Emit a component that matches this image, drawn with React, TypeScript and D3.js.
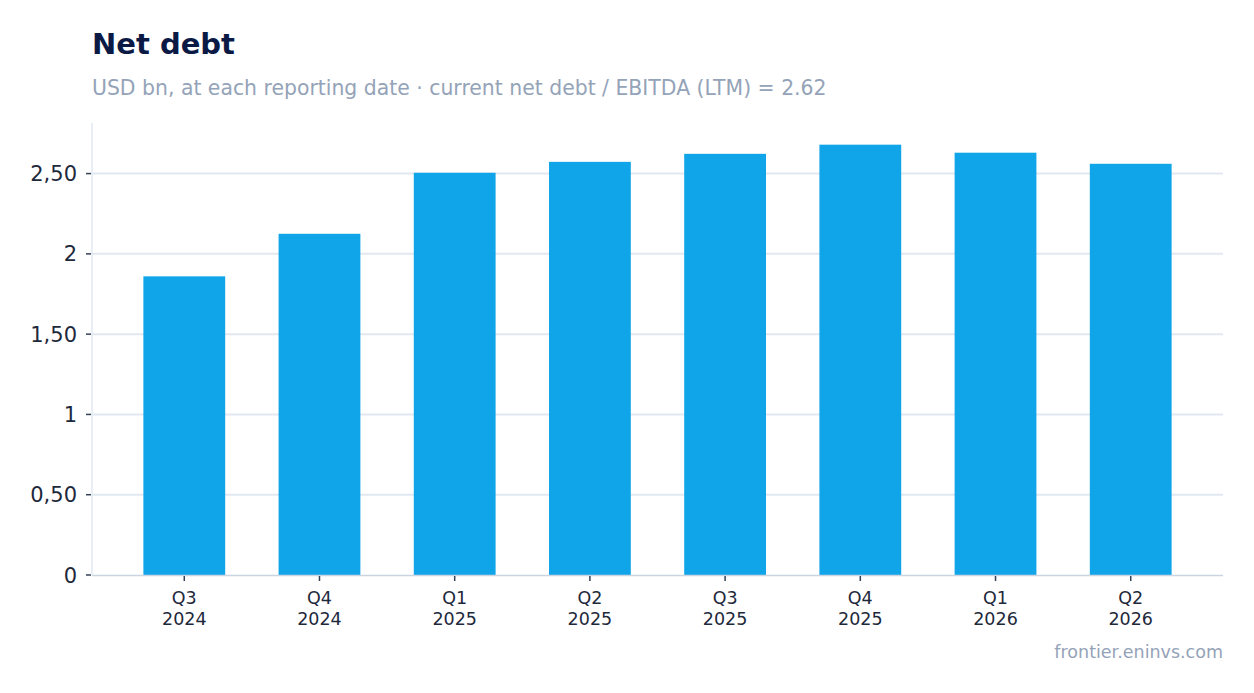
import * as React from 'react'
import { useEffect, useRef } from 'react'
import * as d3 from 'd3'

const quarters = ['Q3', 'Q4', 'Q1', 'Q2', 'Q3', 'Q4', 'Q1', 'Q2']
const years = ['2024', '2024', '2025', '2025', '2025', '2025', '2026', '2026']
const netDebt = [1.86, 2.125, 2.505, 2.573, 2.623, 2.68, 2.63, 2.561]
const yTicks = [0, 0.5, 1, 1.5, 2, 2.5]

const WIDTH = 1254
const HEIGHT = 693

export default function App() {
  const svgRef = useRef<SVGSVGElement>(null)

  useEffect(() => {
    if (!svgRef.current) return
    const svg = d3.select(svgRef.current)
    svg.selectAll('*').remove()

    const marginLeft = 92
    const marginRight = 31
    const marginTop = 123
    const marginBottom = 118
    const innerWidth = WIDTH - marginLeft - marginRight
    const innerHeight = HEIGHT - marginTop - marginBottom
    const font = 'DejaVu Sans, Verdana, sans-serif'

    const keys = quarters.map((q, i) => `${q} ${years[i]}`)

    const xScale = d3.scaleBand()
      .domain(keys)
      .range([0, innerWidth])
      .paddingInner(0.395)
      .paddingOuter(0.38)

    const yScale = d3.scaleLinear()
      .domain([0, 2.815])
      .range([innerHeight, 0])

    const fmt = (v: number) => Number.isInteger(v) ? String(v) : v.toFixed(2).replace('.', ',')

    // Title and subtitle
    svg.append('text')
      .attr('x', 92)
      .attr('y', 54)
      .attr('font-family', font)
      .attr('font-size', '29px')
      .attr('font-weight', '700')
      .attr('fill', '#0b1a45')
      .text('Net debt')

    svg.append('text')
      .attr('x', 92)
      .attr('y', 94.5)
      .attr('font-family', font)
      .attr('font-size', '20.4px')
      .attr('fill', '#94a3b8')
      .text('USD bn, at each reporting date · current net debt / EBITDA (LTM) = 2.62')

    const g = svg.append('g')
      .attr('transform', `translate(${marginLeft}, ${marginTop})`)

    // Grid lines
    yTicks.filter(t => t > 0).forEach(t => {
      g.append('line')
        .attr('x1', 0)
        .attr('x2', innerWidth)
        .attr('y1', yScale(t))
        .attr('y2', yScale(t))
        .attr('stroke', '#e2e8f0')
        .attr('stroke-width', 2)
    })

    // Left axis line
    g.append('line')
      .attr('x1', 0)
      .attr('x2', 0)
      .attr('y1', 0)
      .attr('y2', innerHeight)
      .attr('stroke', '#e2e8f0')
      .attr('stroke-width', 1.5)

    // Bars
    g.selectAll('rect.bar')
      .data(netDebt)
      .enter()
      .append('rect')
      .attr('class', 'bar')
      .attr('x', (_, i) => xScale(keys[i])!)
      .attr('y', d => yScale(d))
      .attr('width', xScale.bandwidth())
      .attr('height', d => innerHeight - yScale(d))
      .attr('fill', '#10a5e8')

    // Bottom axis line
    g.append('line')
      .attr('x1', 0)
      .attr('x2', innerWidth)
      .attr('y1', innerHeight + 0.5)
      .attr('y2', innerHeight + 0.5)
      .attr('stroke', '#cbd5e1')
      .attr('stroke-width', 1.5)

    // Y ticks
    yTicks.forEach(t => {
      g.append('line')
        .attr('x1', -6)
        .attr('x2', -1)
        .attr('y1', yScale(t))
        .attr('y2', yScale(t))
        .attr('stroke', '#334155')
        .attr('stroke-width', 1.5)
      g.append('text')
        .attr('x', -15)
        .attr('y', yScale(t))
        .attr('dy', '0.36em')
        .attr('text-anchor', 'end')
        .attr('font-family', font)
        .attr('font-size', '21px')
        .attr('fill', '#1e293b')
        .text(fmt(t))
    })

    // X ticks
    keys.forEach((k, i) => {
      const cx = xScale(k)! + xScale.bandwidth() / 2
      g.append('line')
        .attr('x1', cx)
        .attr('x2', cx)
        .attr('y1', innerHeight + 1)
        .attr('y2', innerHeight + 6)
        .attr('stroke', '#334155')
        .attr('stroke-width', 1.5)
      g.append('text')
        .attr('x', cx)
        .attr('y', innerHeight + 29)
        .attr('text-anchor', 'middle')
        .attr('font-family', font)
        .attr('font-size', '17.5px')
        .attr('fill', '#1e293b')
        .text(quarters[i])
      g.append('text')
        .attr('x', cx)
        .attr('y', innerHeight + 50)
        .attr('text-anchor', 'middle')
        .attr('font-family', font)
        .attr('font-size', '17.5px')
        .attr('fill', '#1e293b')
        .text(years[i])
    })

    // Source
    svg.append('text')
      .attr('x', WIDTH - 31)
      .attr('y', 658)
      .attr('text-anchor', 'end')
      .attr('font-family', font)
      .attr('font-size', '17.5px')
      .attr('fill', '#94a3b8')
      .text('frontier.eninvs.com')
  }, [])

  return (
    <svg
      ref={svgRef}
      width={WIDTH}
      height={HEIGHT}
      style={{ position: 'absolute', left: 0, top: 0, background: '#ffffff' }}
    />
  )
}
